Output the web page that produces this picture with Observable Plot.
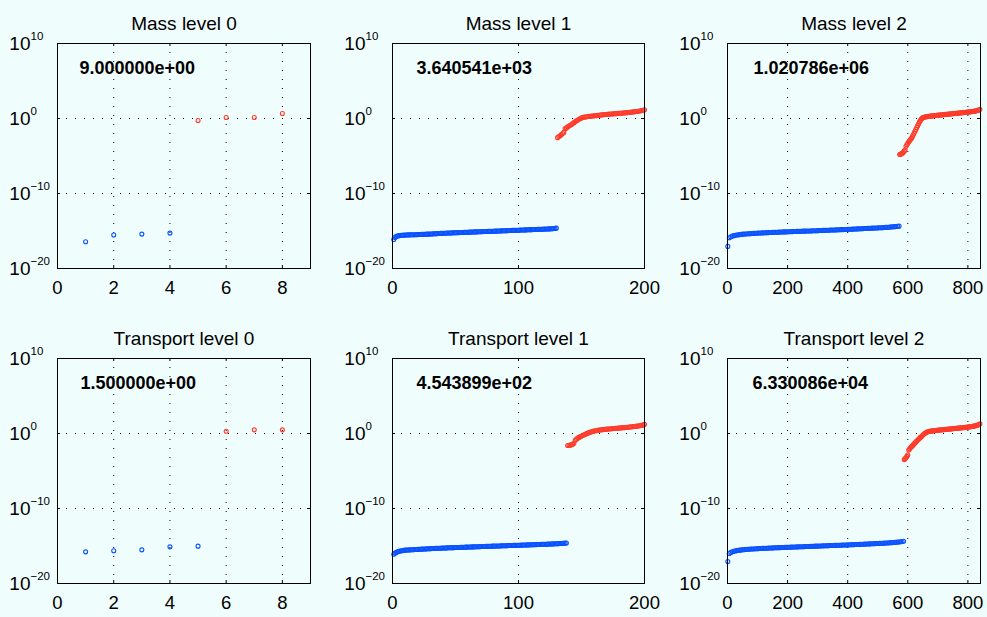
<!DOCTYPE html>
<html><head><meta charset="utf-8">
<script src="https://cdn.jsdelivr.net/npm/d3@7"></script>
<script src="https://cdn.jsdelivr.net/npm/@observablehq/plot@0.6"></script>
<style>
html,body{margin:0;padding:0;background:#f0fdfd;}
#wrap{position:relative;width:987px;height:617px;background:#f0fdfd;overflow:hidden;}
#wrap svg{position:absolute;}
</style></head><body><div id="wrap"></div>
<script>
// ---------- tick labels / texts ----------
const yTickValues = [1e-20, 1e-10, 1, 1e10];
const yTickExponents = ["\u221220", "\u221210", "0", "10"];
const xTicksLevel0 = [0, 2, 4, 6, 8];
const xTicksLevel1 = [0, 100, 200];
const xTicksLevel2 = [0, 200, 400, 600, 800];
const titles = ["Mass level 0", "Mass level 1", "Mass level 2", "Transport level 0", "Transport level 1", "Transport level 2"];
const annotations = ["9.000000e+00", "3.640541e+03", "1.020786e+06", "1.500000e+00", "4.543899e+02", "6.330086e+04"];

// ---------- level 0 (explicit indices, log10 of values) ----------
const massL0BlueX = [1, 2, 3, 4];
const massL0BlueLog = [-16.43, -15.54, -15.41, -15.28];
const massL0RedX = [5, 6, 7, 8];
const massL0RedLog = [-0.27, 0.13, 0.13, 0.67];
const transL0BlueX = [1, 2, 3, 4, 5];
const transL0BlueLog = [-15.78, -15.64, -15.51, -15.11, -15.02];
const transL0RedX = [6, 7, 8];
const transL0RedLog = [0.31, 0.49, 0.49];

// ---------- level 1 (one value per index; blue from 1, red follows) ----------
const massL1BlueLog = [
-16.13,-15.85,-15.72,-15.66,-15.62,-15.6,-15.58,-15.56,-15.55,-15.54,
-15.53,-15.52,-15.51,-15.51,-15.5,-15.5,-15.49,-15.49,-15.48,-15.48,
-15.47,-15.46,-15.45,-15.45,-15.44,-15.43,-15.42,-15.42,-15.41,-15.4,
-15.39,-15.38,-15.37,-15.36,-15.35,-15.34,-15.33,-15.32,-15.31,-15.3,
-15.29,-15.29,-15.28,-15.27,-15.27,-15.26,-15.25,-15.24,-15.24,-15.23,
-15.22,-15.21,-15.21,-15.2,-15.19,-15.19,-15.18,-15.17,-15.17,-15.16,
-15.15,-15.15,-15.14,-15.13,-15.12,-15.12,-15.11,-15.1,-15.1,-15.09,
-15.08,-15.08,-15.07,-15.06,-15.06,-15.05,-15.05,-15.04,-15.03,-15.03,
-15.02,-15.01,-15.01,-15,-14.99,-14.98,-14.98,-14.97,-14.96,-14.96,
-14.95,-14.94,-14.94,-14.93,-14.92,-14.92,-14.91,-14.9,-14.9,-14.89,
-14.88,-14.87,-14.87,-14.86,-14.85,-14.85,-14.84,-14.83,-14.82,-14.82,
-14.81,-14.8,-14.8,-14.79,-14.78,-14.78,-14.77,-14.77,-14.76,-14.75,
-14.74,-14.74,-14.73,-14.72,-14.71,-14.7,-14.69,-14.67,-14.65,-14.62];
const massL1RedLog = [
-2.55,-2.4,-2.3,-2.15,-2.0,-1.85,-1.35,-1.25,-1.12,-1.0,
-0.9,-0.8,-0.68,-0.55,-0.42,-0.3,-0.2,-0.1,0.0,0.08,
0.14,0.18,0.21,0.24,0.26,0.28,0.3,0.32,0.34,0.36,
0.38,0.4,0.42,0.44,0.46,0.48,0.5,0.52,0.54,0.56,
0.57,0.58,0.6,0.61,0.62,0.64,0.65,0.67,0.68,0.7,
0.71,0.72,0.74,0.75,0.77,0.78,0.8,0.82,0.84,0.86,
0.88,0.9,0.92,0.94,0.97,1.0,1.03,1.07,1.11,1.16];
const transL1BlueLog = [
-16.1,-15.95,-15.85,-15.78,-15.72,-15.68,-15.64,-15.61,-15.58,-15.55,
-15.54,-15.53,-15.52,-15.51,-15.5,-15.49,-15.48,-15.47,-15.46,-15.45,
-15.44,-15.43,-15.42,-15.41,-15.4,-15.39,-15.38,-15.37,-15.36,-15.35,
-15.34,-15.33,-15.33,-15.32,-15.31,-15.3,-15.3,-15.29,-15.28,-15.27,
-15.26,-15.26,-15.25,-15.24,-15.24,-15.23,-15.22,-15.22,-15.21,-15.2,
-15.2,-15.19,-15.19,-15.18,-15.17,-15.17,-15.16,-15.15,-15.15,-15.14,
-15.13,-15.13,-15.12,-15.12,-15.11,-15.1,-15.1,-15.09,-15.08,-15.08,
-15.07,-15.07,-15.06,-15.05,-15.05,-15.04,-15.04,-15.03,-15.02,-15.02,
-15.01,-15.01,-15,-14.99,-14.99,-14.98,-14.97,-14.97,-14.96,-14.96,
-14.95,-14.94,-14.94,-14.93,-14.93,-14.92,-14.91,-14.91,-14.9,-14.9,
-14.89,-14.88,-14.88,-14.87,-14.86,-14.86,-14.85,-14.85,-14.84,-14.83,
-14.83,-14.82,-14.81,-14.81,-14.8,-14.79,-14.79,-14.78,-14.78,-14.77,
-14.76,-14.76,-14.75,-14.74,-14.74,-14.73,-14.72,-14.71,-14.7,-14.7,
-14.69,-14.68,-14.67,-14.66,-14.65,-14.63,-14.62,-14.6];
const transL1RedLog = [
-1.6,-1.58,-1.55,-1.5,-1.42,-1.3,-0.9,-0.75,-0.62,-0.52,
-0.42,-0.34,-0.26,-0.18,-0.1,-0.02,0.05,0.12,0.18,0.23,
0.28,0.32,0.36,0.4,0.43,0.46,0.48,0.5,0.52,0.54,
0.56,0.58,0.6,0.61,0.63,0.64,0.66,0.67,0.69,0.7,
0.72,0.73,0.75,0.76,0.78,0.79,0.81,0.82,0.84,0.86,
0.88,0.9,0.92,0.94,0.96,0.98,1.0,1.03,1.06,1.1,
1.15,1.22];

// ---------- level 2 (sampled indices: blue every 5th from 1, red every 3rd) ----------
const massL2BlueLog = [
-17.05,-15.9,-15.76,-15.68,-15.62,-15.58,-15.54,-15.51,-15.48,-15.45,-15.42,
-15.4,-15.39,-15.37,-15.36,-15.35,-15.33,-15.32,-15.31,-15.29,-15.28,
-15.27,-15.26,-15.25,-15.24,-15.23,-15.22,-15.21,-15.2,-15.19,-15.18,
-15.17,-15.16,-15.16,-15.15,-15.14,-15.13,-15.12,-15.12,-15.11,-15.1,
-15.09,-15.08,-15.08,-15.07,-15.06,-15.05,-15.05,-15.04,-15.03,-15.02,
-15.02,-15.01,-15.0,-14.99,-14.99,-14.98,-14.97,-14.96,-14.96,-14.95,
-14.94,-14.93,-14.92,-14.92,-14.91,-14.9,-14.89,-14.88,-14.87,-14.87,
-14.86,-14.85,-14.84,-14.83,-14.82,-14.81,-14.81,-14.8,-14.79,-14.78,
-14.77,-14.76,-14.75,-14.74,-14.73,-14.72,-14.71,-14.7,-14.69,-14.68,
-14.67,-14.66,-14.65,-14.64,-14.63,-14.62,-14.61,-14.6,-14.59,-14.58,
-14.57,-14.56,-14.55,-14.53,-14.52,-14.5,-14.49,-14.47,-14.45,-14.44,
-14.42,-14.4,-14.38,-14.35];
const massL2RedLog = [
-4.8,-4.75,-4.7,-4.62,-4.52,-4.35,-4.22,-3.7,-3.5,-3.3,
-3.1,-2.95,-2.8,-2.65,-2.45,-2.2,-1.95,-1.7,-1.45,-1.2,
-0.95,-0.7,-0.45,-0.25,-0.08,0.05,0.12,0.17,0.2,0.23,
0.25,0.27,0.29,0.3,0.32,0.33,0.35,0.36,0.38,0.39,
0.41,0.42,0.43,0.45,0.46,0.47,0.49,0.5,0.51,0.52,
0.54,0.55,0.56,0.57,0.59,0.6,0.61,0.62,0.63,0.65,
0.66,0.67,0.68,0.7,0.71,0.72,0.73,0.75,0.76,0.77,
0.78,0.8,0.81,0.82,0.84,0.85,0.86,0.88,0.89,0.91,
0.92,0.94,0.96,0.98,1.0,1.03,1.06,1.1,1.15,1.22];
const transL2BlueLog = [
-17.08,-16.0,-15.85,-15.76,-15.7,-15.65,-15.61,-15.58,-15.55,-15.52,-15.5,
-15.48,-15.46,-15.44,-15.43,-15.41,-15.4,-15.39,-15.37,-15.36,-15.35,
-15.34,-15.33,-15.32,-15.31,-15.3,-15.29,-15.28,-15.27,-15.26,-15.25,
-15.24,-15.23,-15.22,-15.22,-15.21,-15.2,-15.19,-15.18,-15.18,-15.17,
-15.16,-15.15,-15.14,-15.14,-15.13,-15.12,-15.11,-15.1,-15.1,-15.09,
-15.08,-15.07,-15.06,-15.06,-15.05,-15.04,-15.03,-15.02,-15.02,-15.01,
-15.0,-14.99,-14.98,-14.98,-14.97,-14.96,-14.95,-14.94,-14.94,-14.93,
-14.92,-14.91,-14.9,-14.9,-14.89,-14.88,-14.87,-14.86,-14.86,-14.85,
-14.84,-14.83,-14.82,-14.81,-14.8,-14.8,-14.79,-14.78,-14.77,-14.76,
-14.75,-14.74,-14.73,-14.72,-14.71,-14.7,-14.69,-14.68,-14.67,-14.66,
-14.65,-14.64,-14.63,-14.62,-14.6,-14.59,-14.58,-14.56,-14.55,-14.53,
-14.52,-14.5,-14.48,-14.46,-14.43,-14.4,-14.36];
const transL2RedLog = [
-3.48,-3.35,-3.2,-3.05,-2.85,-2.2,-2.05,-1.9,-1.78,-1.65,
-1.52,-1.38,-1.25,-1.12,-1.0,-0.88,-0.76,-0.64,-0.52,-0.4,
-0.29,-0.18,-0.08,0.02,0.1,0.17,0.22,0.26,0.29,0.31,
0.33,0.35,0.36,0.38,0.39,0.41,0.42,0.43,0.45,0.46,
0.47,0.49,0.5,0.51,0.52,0.54,0.55,0.56,0.57,0.59,
0.6,0.61,0.62,0.63,0.65,0.66,0.67,0.68,0.7,0.71,
0.72,0.73,0.75,0.76,0.77,0.78,0.8,0.81,0.82,0.84,
0.85,0.87,0.88,0.9,0.92,0.94,0.96,0.98,1.0,1.03,
1.06,1.1,1.15,1.21,1.3];

// ---------- helpers ----------
const FONT = '"Liberation Sans", Arial, Helvetica, sans-serif';
const BLUE = "#0a52ff", RED = "#ff3b2b";
const fromPairs = (xs, logs) => logs.map((v, i) => ({x: xs[i], y: 10 ** v}));
const fromIndex = (start, step, logs) => logs.map((v, i) => ({x: start + i * step, y: 10 ** v}));

const cols = [
  {left: 0, width: 329, ml: 57, mr: 19},
  {left: 329, width: 329, ml: 63, mr: 14},
  {left: 658, width: 329, ml: 69, mr: 7}
];
const rows = [
  {top: 0, height: 305, mt: 43, mb: 37},
  {top: 305, height: 312, mt: 53, mb: 34}
];

const panelDefs = [
  {row: 0, col: 0, xDomain: [0, 9], xTicks: xTicksLevel0, noteDx: 22,
   blue: fromPairs(massL0BlueX, massL0BlueLog), red: fromPairs(massL0RedX, massL0RedLog)},
  {row: 0, col: 1, xDomain: [0, 200], xTicks: xTicksLevel1, noteDx: 24,
   blue: fromIndex(1, 1, massL1BlueLog), red: fromIndex(131, 1, massL1RedLog)},
  {row: 0, col: 2, xDomain: [0, 842], xTicks: xTicksLevel2, noteDx: 26,
   blue: fromIndex(1, 5, massL2BlueLog), red: fromIndex(573, 3, massL2RedLog)},
  {row: 1, col: 0, xDomain: [0, 9], xTicks: xTicksLevel0, noteDx: 23,
   blue: fromPairs(transL0BlueX, transL0BlueLog), red: fromPairs(transL0RedX, transL0RedLog)},
  {row: 1, col: 1, xDomain: [0, 200], xTicks: xTicksLevel1, noteDx: 24,
   blue: fromIndex(1, 1, transL1BlueLog), red: fromIndex(139, 1, transL1RedLog)},
  {row: 1, col: 2, xDomain: [0, 842], xTicks: xTicksLevel2, noteDx: 25,
   blue: fromIndex(1, 5, transL2BlueLog), red: fromIndex(588, 3, transL2RedLog)}
];

const wrap = document.getElementById("wrap");
panelDefs.forEach((p, k) => {
  const c = cols[p.col], r = rows[p.row];
  const fw = c.width - c.ml - c.mr, fh = r.height - r.mt - r.mb;
  const svg = Plot.plot({
    width: c.width, height: r.height,
    marginLeft: c.ml, marginRight: c.mr, marginTop: r.mt, marginBottom: r.mb,
    style: {background: "transparent", fontFamily: FONT, overflow: "visible", color: "#000"},
    x: {domain: p.xDomain, axis: null},
    y: {type: "log", domain: [1e-20, 1e10], axis: null},
    marks: [
      Plot.ruleX(p.xTicks, {x: d => d, stroke: "#000", strokeWidth: 1, strokeDasharray: "1,8"}),
      Plot.ruleY(yTickValues, {y: d => d, stroke: "#000", strokeWidth: 1, strokeDasharray: "1,8"}),
      Plot.dot(p.blue, {x: "x", y: "y", r: 2, stroke: BLUE, strokeWidth: 1.1, fill: "none"}),
      Plot.dot(p.red, {x: "x", y: "y", r: 2, stroke: RED, strokeWidth: 1.1, fill: "none"}),
      Plot.frame({stroke: "#000", strokeWidth: 1}),
      Plot.tickX(p.xTicks, {x: d => d, insetTop: fh - 3, stroke: "#000"}),
      Plot.tickX(p.xTicks, {x: d => d, insetBottom: fh - 3, stroke: "#000"}),
      Plot.tickY(yTickValues, {y: d => d, insetRight: fw - 3, stroke: "#000"}),
      Plot.tickY(yTickValues, {y: d => d, insetLeft: fw - 3, stroke: "#000"}),
      Plot.axisX(p.xTicks, {anchor: "bottom", tickSize: 0, tickPadding: 12, fontSize: 18.5,
        label: null, tickFormat: d => String(d), fill: "#000"}),
      Plot.text(yTickValues, {y: d => d, frameAnchor: "left", text: () => "10", textAnchor: "end",
        dx: -27, fontSize: 19, fill: "#000"}),
      Plot.text(yTickValues, {y: d => d, frameAnchor: "left", text: (d, i) => yTickExponents[i],
        textAnchor: "start", dx: -27, dy: -7, fontSize: 11.5, fill: "#000"}),
      Plot.text([titles[k]], {frameAnchor: "top", dy: -14, lineAnchor: "bottom", fontSize: 19, fill: "#000"}),
      Plot.text([annotations[k]], {frameAnchor: "top-left", dx: p.noteDx, dy: 18, lineAnchor: "top",
        textAnchor: "start", fontSize: 18, fontWeight: "bold", fill: "#000"})
    ]
  });
  svg.style.left = c.left + "px";
  svg.style.top = r.top + "px";
  wrap.appendChild(svg);
});
</script>
</body></html>
